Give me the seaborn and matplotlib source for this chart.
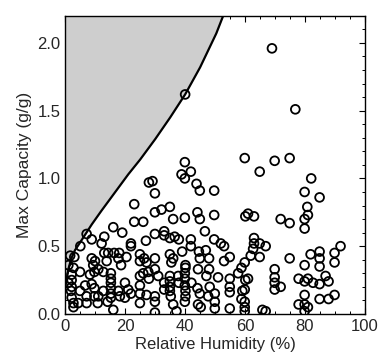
import matplotlib
matplotlib.use("Agg")
import matplotlib.pyplot as plt
import seaborn as sns
import pandas as pd
from matplotlib.ticker import MultipleLocator

# Boundary curve
curve_rh = [0, 1, 2, 3.2, 5, 8.8, 12, 16, 21, 25, 30, 35, 40, 45, 50.4, 52.7]
curve_cap = [0.20, 0.33, 0.41, 0.47, 0.53, 0.66, 0.76, 0.88, 1.03, 1.14, 1.29, 1.45, 1.62, 1.82, 2.07, 2.2]

# Scatter data: relative humidity (%) and max capacity (g/g)
rh = [
    40, 69, 76.8, 59.9, 69.9, 74.9, 64.9, 82.1, 79.9, 84.9,
    1.6, 3, 5, 7.1, 8.8, 12.1, 13, 16, 19, 23, 26, 23, 27.9, 29.1, 29.9, 29.9, 32.1, 34.9, 36, 39.9,
    44.9, 49.7, 38.8, 39.9, 39.9, 41.9, 43.8, 44.9, 49.7, 44.1, 33, 29.9, 33, 34.9, 36.5, 37.9, 26.9,
    46.6, 49.7, 41.9, 41.9, 21.9, 21.9,
    13, 14.3, 16.3, 18, 17.7, 13.8, 20.4, 18.6,
    24.9, 24.9, 26.3, 27.1, 29.9, 34.9, 36, 35.4, 39, 40.1, 40.1, 44.6, 44.9, 46.9,
    8.8, 9.9, 9.3, 11, 12.7, 9.7, 8.2,
    2.7, 2.1, 1.0, 1.0, 4.9,
    2.1, 2.1, 1.9, 2.1, 2.7, 2.7,
    4.9, 6.6, 8.8, 9.7, 7.1, 7.1, 9.7, 11, 10.8, 12.7, 14.1, 4.3,
    15.2, 15.2, 15.2, 15.2, 15.2, 15.2,
    16, 17.7, 18.2, 19.9, 21, 21.9, 19.9,
    24.9, 24.9, 24.9, 24.9, 26, 27.7, 27.9, 27.1, 29.9, 31, 29.9, 29.9, 29.9,
    33, 33,
    34.9, 34.9, 34.9, 34.9, 35.2, 37.1, 36, 37.7, 37.9,
    39.9, 39.9, 39.9, 40.1, 40.1, 39.9,
    42.1, 44.1, 44.9, 44.3, 45.2, 48.2, 49.9, 49.9, 47.1,
    60.1, 61, 63, 71.9, 74.9, 79.9, 81, 80.8, 79.9,
    51.9, 53, 53, 54.9, 48, 63, 63, 64.9, 66.9, 62.7, 61.9, 64.9, 59.9, 58.8, 57.7,
    74.9, 81.9, 84.9, 84.9, 84.9, 79.9, 89.9, 89.9, 91.9,
    69.9, 69.9, 69.9, 69.9, 71.9,
    44.3, 48, 51, 54.9, 54.9, 54.9, 60.1, 61, 59.9, 59.1, 58.8, 59.9, 59.9, 59.9,
    47.7, 49.9, 54.9, 65.8, 66.9,
    77.9, 79.9, 81, 82.7, 84.9, 86.9, 87.9, 79.9, 84.9, 87.9, 89.9, 77.9, 79.9, 81, 79.9,
]
capacity = [
    1.62, 1.96, 1.51, 1.15, 1.13, 1.15, 1.05, 1.00, 0.90, 0.86,
    0.43, 0.42, 0.50, 0.59, 0.55, 0.52, 0.57, 0.64, 0.60, 0.68, 0.68, 0.81, 0.97, 0.98, 0.89, 0.75, 0.77, 0.79, 0.70, 0.71,
    0.70, 0.73, 1.03, 1.12, 1.00, 1.05, 0.96, 0.91, 0.91, 0.75, 0.61, 0.59, 0.58, 0.56, 0.57, 0.55, 0.54,
    0.61, 0.55, 0.55, 0.50, 0.52, 0.50,
    0.45, 0.45, 0.45, 0.45, 0.41, 0.39, 0.42, 0.36,
    0.44, 0.39, 0.41, 0.38, 0.41, 0.44, 0.41, 0.38, 0.46, 0.36, 0.34, 0.46, 0.41, 0.47,
    0.41, 0.39, 0.36, 0.33, 0.31, 0.31, 0.29,
    0.34, 0.29, 0.23, 0.36, 0.31,
    0.25, 0.20, 0.17, 0.12, 0.08, 0.05,
    0.17, 0.21, 0.22, 0.19, 0.13, 0.08, 0.13, 0.13, 0.08, 0.17, 0.09, 0.08,
    0.30, 0.26, 0.23, 0.19, 0.15, 0.12,
    0.03, 0.17, 0.13, 0.23, 0.18, 0.15, 0.12,
    0.28, 0.21, 0.15, 0.08, 0.30, 0.31, 0.26, 0.14, 0.33, 0.28, 0.13, 0.09, 0.01,
    0.23, 0.18,
    0.28, 0.24, 0.20, 0.17, 0.13, 0.02, 0.07, 0.28, 0.23,
    0.30, 0.26, 0.21, 0.17, 0.13, 0.09,
    0.23, 0.19, 0.15, 0.07, 0.05, 0.20, 0.15, 0.09, 0.28,
    0.72, 0.74, 0.72, 0.70, 0.67, 0.70, 0.73, 0.79, 0.63,
    0.52, 0.50, 0.39, 0.42, 0.41, 0.56, 0.52, 0.52, 0.50, 0.48, 0.43, 0.42, 0.38, 0.34, 0.30,
    0.41, 0.44, 0.46, 0.41, 0.35, 0.36, 0.45, 0.38, 0.50,
    0.33, 0.27, 0.23, 0.18, 0.20,
    0.33, 0.33, 0.27, 0.26, 0.20, 0.16, 0.25, 0.26, 0.18, 0.17, 0.11, 0.09, 0.05, 0.02,
    0.13, 0.04, 0.04, 0.03, 0.02,
    0.26, 0.24, 0.26, 0.23, 0.22, 0.28, 0.24, 0.14, 0.11, 0.11, 0.14, 0.07, 0.07, 0.05, 0.02,
]

df = pd.DataFrame({"rh": rh, "cap": capacity})

sns.set_style("ticks")
plt.rcParams["font.family"] = ["Liberation Sans", "DejaVu Sans"]

fig = plt.figure(figsize=(3.8, 3.6), dpi=100)
ax = fig.add_axes([0.172, 0.128, 0.788, 0.828])

ax.fill_between(curve_rh, curve_cap, 2.2, color="#cecece", linewidth=0, zorder=1)
ax.plot(curve_rh, curve_cap, color="black", linewidth=1.6, zorder=2)

sns.scatterplot(data=df, x="rh", y="cap", ax=ax, s=40, facecolor="none",
                edgecolor="black", linewidth=1.3, zorder=3, legend=False)

ax.set_xlim(0, 100)
ax.set_ylim(0, 2.2)
ax.xaxis.set_major_locator(MultipleLocator(20))
ax.xaxis.set_minor_locator(MultipleLocator(5))
ax.yaxis.set_major_locator(MultipleLocator(0.5))
ax.yaxis.set_minor_locator(MultipleLocator(0.1))
ax.yaxis.set_major_formatter(matplotlib.ticker.FormatStrFormatter("%.1f"))
ax.tick_params(which="both", direction="in", top=True, right=True, labelsize=12, color="black")
ax.tick_params(which="major", length=4, width=0.8, pad=3.5)
ax.tick_params(which="minor", length=2.5, width=0.7)
for s in ax.spines.values():
    s.set_visible(True)
    s.set_linewidth(1.0)
    s.set_color("black")

ax.set_xlabel("Relative Humidity (%)", fontsize=12, labelpad=2)
ax.set_ylabel("Max Capacity (g/g)", fontsize=12.5, labelpad=4)

fig.savefig("out.png", dpi=100)
